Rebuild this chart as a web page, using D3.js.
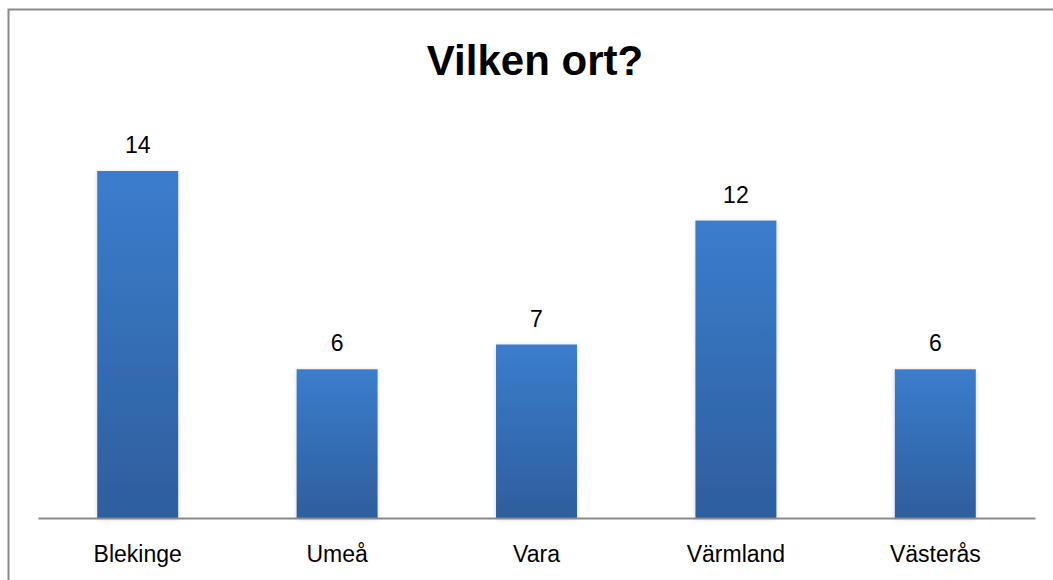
<!DOCTYPE html>
<html>
<head>
<meta charset="utf-8">
<script src="https://cdn.jsdelivr.net/npm/d3@7"></script>
<style>
  body { margin: 0; background: #fff; }
  svg { display: block; font-family: "Liberation Sans", Arial, sans-serif; }
</style>
</head>
<body>
<div id="chart"></div>
<script>
// chart data
const title = 'Vilken ort?';
const categories = ['Blekinge', 'Umeå', 'Vara', 'Värmland', 'Västerås'];
const values = [14, 6, 7, 12, 6];

const width = 1053, height = 580;
const margin = { left: 38, right: 18, top: 171, bottom: 62 };

const svg = d3.select('#chart')
    .append('svg')
    .attr('width', width)
    .attr('height', height);

// gradient + soft shadow for the bars
const defs = svg.append('defs');
const grad = defs.append('linearGradient')
    .attr('id', 'barGrad')
    .attr('x1', 0).attr('y1', 0).attr('x2', 0).attr('y2', 1);
grad.append('stop').attr('offset', '0%').attr('stop-color', '#3b7dcd');
grad.append('stop').attr('offset', '100%').attr('stop-color', '#2e5e9d');
const shadow = defs.append('filter')
    .attr('id', 'barShadow')
    .attr('x', '-20%').attr('y', '-10%').attr('width', '140%').attr('height', '120%');
shadow.append('feDropShadow')
    .attr('dx', 0).attr('dy', 1)
    .attr('stdDeviation', 2)
    .attr('flood-color', '#000')
    .attr('flood-opacity', 0.18);

// outer frame (only left and top visible in the picture)
svg.append('path')
    .attr('d', `M8.5,${height} V9.5 H${width}`)
    .attr('fill', 'none')
    .attr('stroke', '#8a8a8a')
    .attr('stroke-width', 2);

const baseline = height - margin.bottom;

const x = d3.scaleBand()
    .domain(categories)
    .range([margin.left, width - margin.right])
    .paddingInner(0.594)
    .paddingOuter(0.297);

const y = d3.scaleLinear()
    .domain([0, 14])
    .range([baseline, margin.top]);

// bars
svg.append('g')
    .selectAll('rect')
    .data(values)
    .join('rect')
    .attr('x', (d, i) => x(categories[i]))
    .attr('y', d => y(d))
    .attr('width', x.bandwidth())
    .attr('height', d => baseline - y(d))
    .attr('fill', 'url(#barGrad)')
    .attr('filter', 'url(#barShadow)');

// category axis
const axis = svg.append('g')
    .attr('transform', `translate(0,${baseline})`)
    .call(d3.axisBottom(x).tickSize(0).tickPadding(28));
axis.select('.domain')
    .attr('stroke', '#8a8a8a')
    .attr('stroke-width', 2);
axis.selectAll('text')
    .attr('font-family', '"Liberation Sans", Arial, sans-serif')
    .attr('font-size', 23)
    .attr('fill', '#000');

// value labels
svg.append('g')
    .selectAll('text')
    .data(values)
    .join('text')
    .attr('x', (d, i) => x(categories[i]) + x.bandwidth() / 2)
    .attr('y', d => y(d) - 18)
    .attr('text-anchor', 'middle')
    .attr('font-size', 23)
    .attr('fill', '#000')
    .text(d => d);

// title
svg.append('text')
    .attr('x', 535)
    .attr('y', 75)
    .attr('text-anchor', 'middle')
    .attr('font-size', 42)
    .attr('font-weight', 'bold')
    .attr('fill', '#000')
    .text(title);
</script>
</body>
</html>
